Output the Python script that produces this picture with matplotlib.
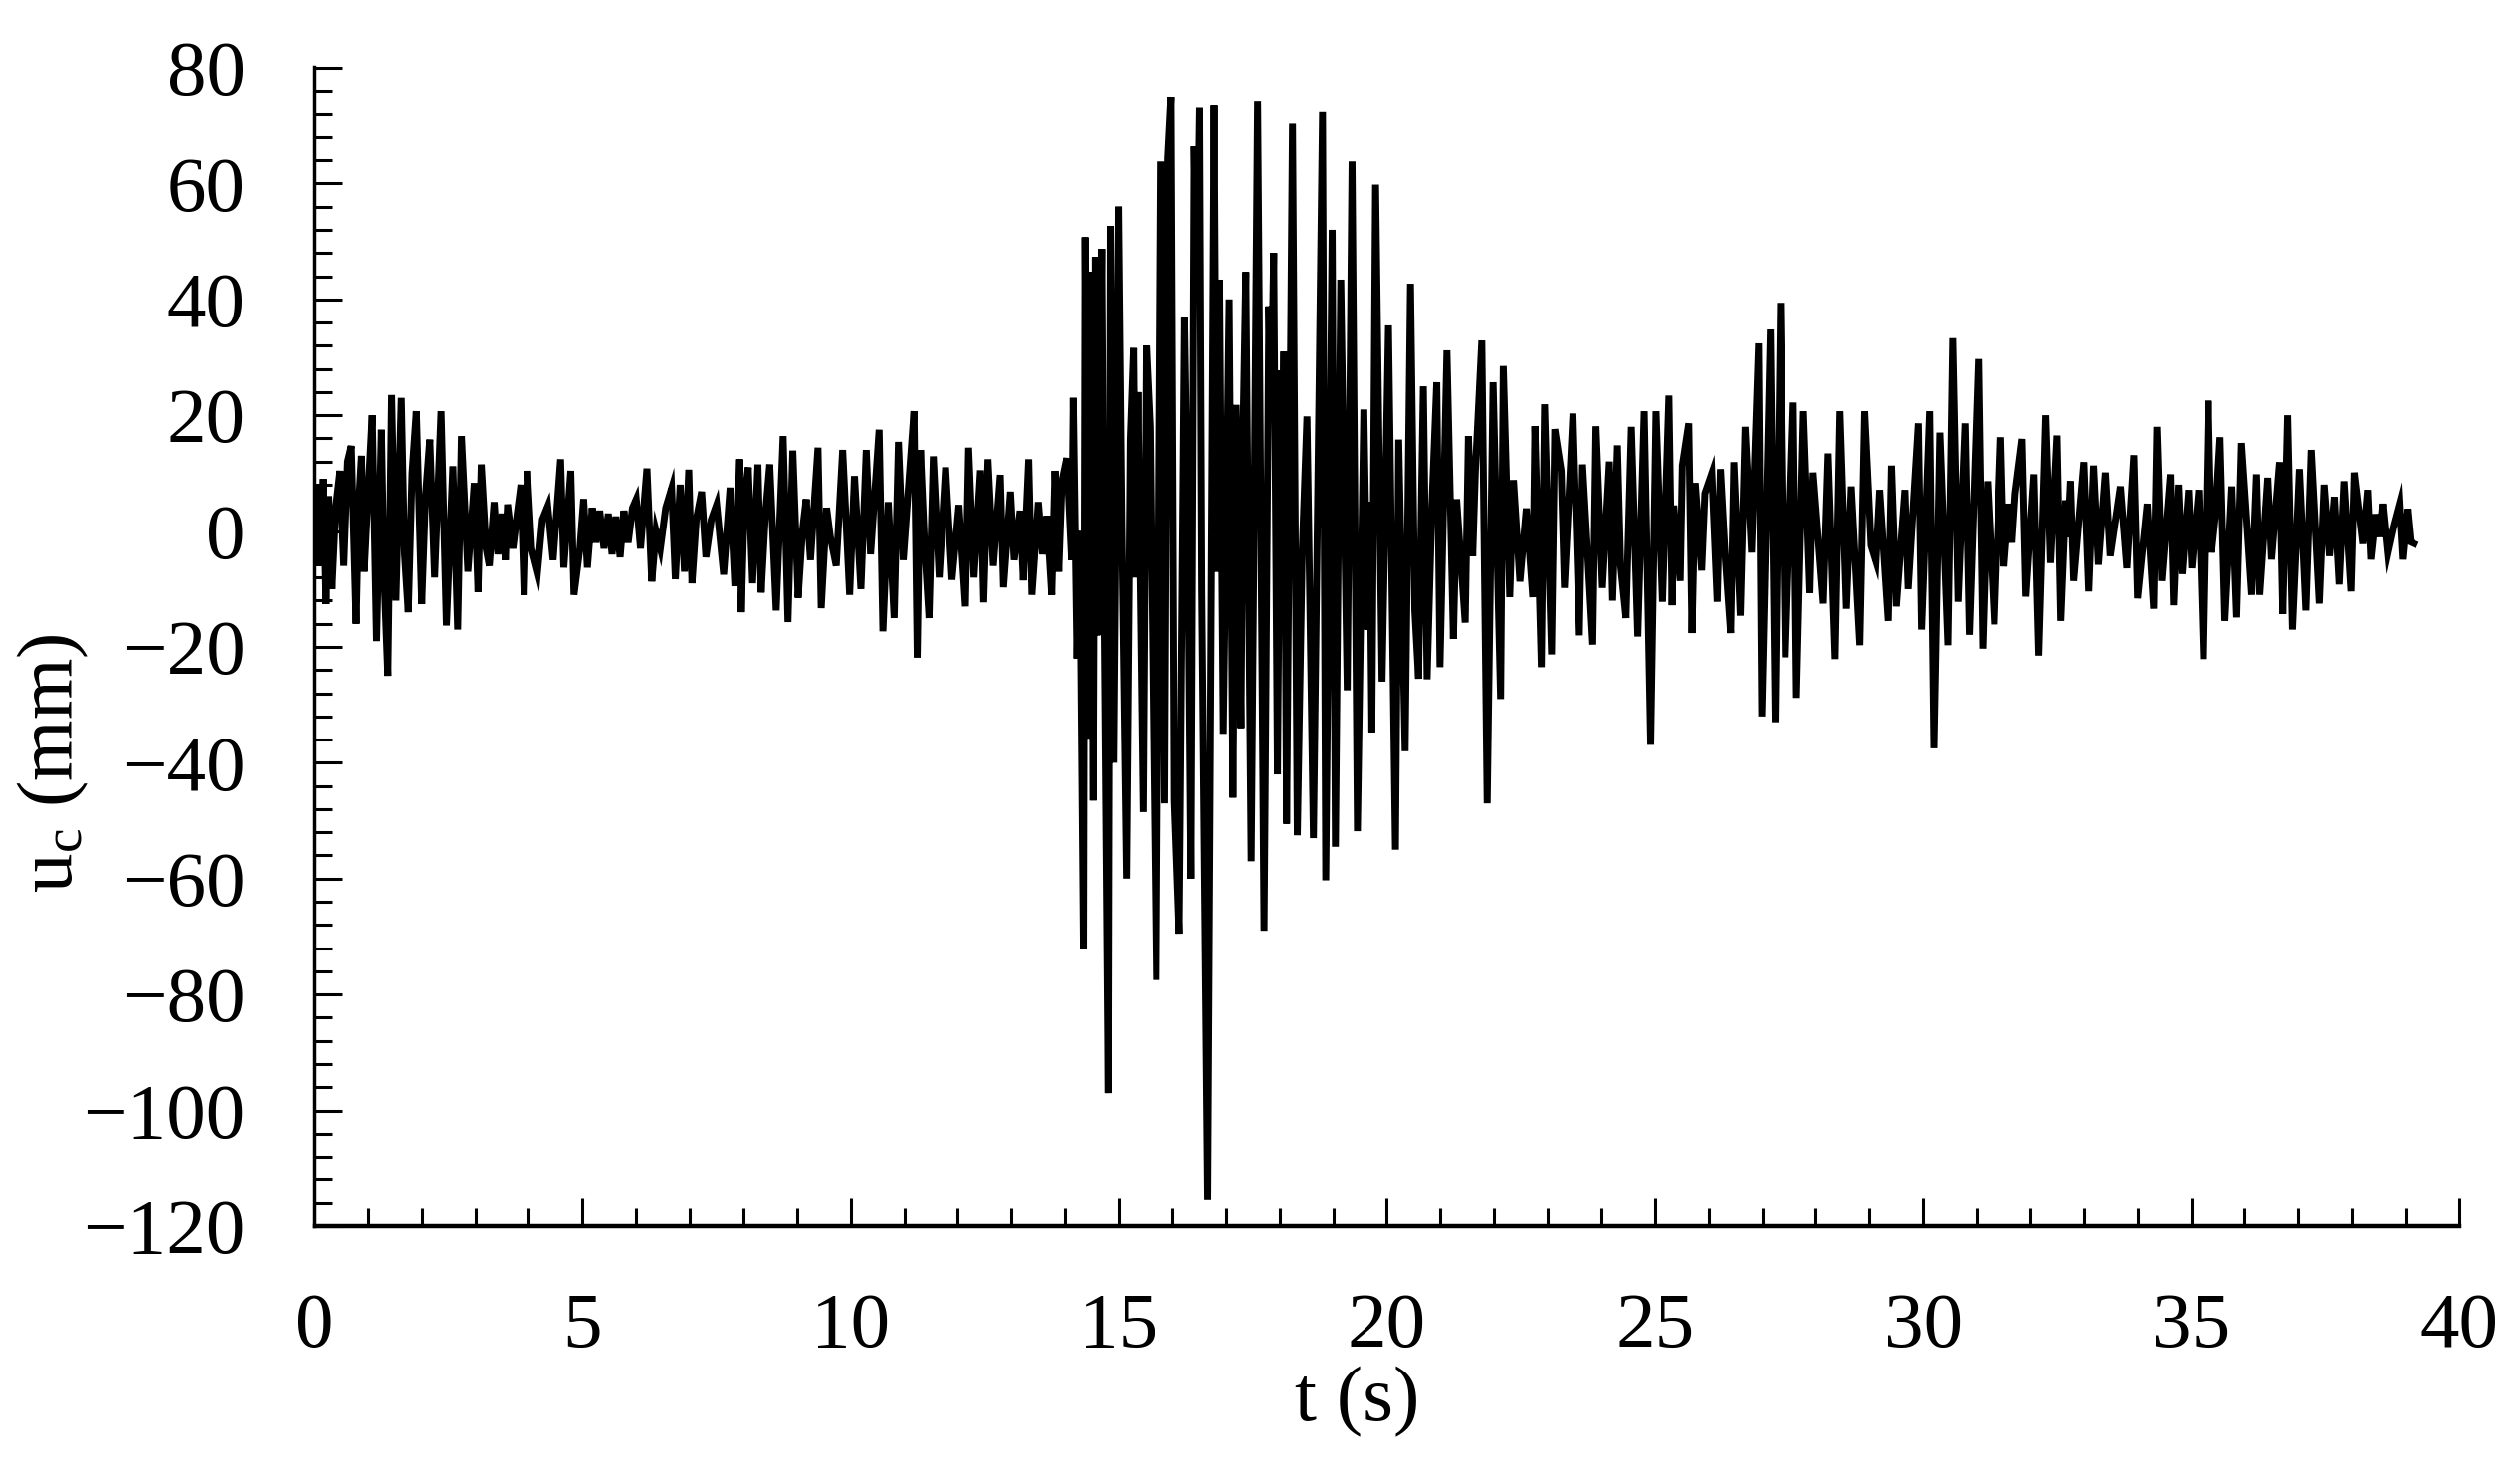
import numpy as np
import matplotlib
matplotlib.use("Agg")
import matplotlib.pyplot as plt
from matplotlib.ticker import MultipleLocator

plt.rcParams['font.family'] = ['Liberation Serif', 'DejaVu Serif']
plt.rcParams['mathtext.fontset'] = 'custom'
plt.rcParams['mathtext.rm'] = 'Liberation Serif'
plt.rcParams['mathtext.it'] = 'Liberation Serif:italic'

# displacement record u_c (mm) vs t (s)
t_a = [0.00, 0.05, 0.10, 0.17, 0.22, 0.27, 0.33, 0.40, 0.48, 0.55, 0.62, 0.69, 0.78, 0.83, 0.88,
       0.93, 1.00, 1.08, 1.16, 1.25, 1.30, 1.37, 1.44, 1.52, 1.62, 1.68, 1.75, 1.82, 1.90, 2.00,
       2.07, 2.15, 2.24, 2.36, 2.46, 2.58, 2.67, 2.74, 2.86, 2.98, 3.05, 3.11, 3.20, 3.26, 3.35,
       3.42, 3.50, 3.56, 3.60, 3.70, 3.78, 3.85, 3.91, 3.97, 4.05, 4.16, 4.25, 4.35, 4.45, 4.59,
       4.65, 4.78, 4.84, 4.95, 5.02, 5.09]
u_a = [0, 8, -6, 9, -12.6, 6, -10, 4, 10.4, -6, 12, 14.7, -16, 5, 13,
       -7, 6, 20, -19, 17.5, -8, -25, 23.5, -12, 23, -4, -14, 10, 20.7, -12.6,
       6, 15.8, -8, 20.7, -16.3, 11.2, -17, 16.4, -7, 8.3, -10.5, 11.5, -3, -6, 5,
       -4, 3, -5, 4.6, -3, 3, 8, -11, 10.4, -3, -7, 2, 4.3, -5, 12.4,
       -6.3, 10.4, -11, -3, 5.5, -6.3]

t_b = [5.18, 5.25, 5.32, 5.40, 5.48, 5.55, 5.62, 5.70, 5.77, 5.85, 5.93, 6.00, 6.08, 6.20, 6.29,
       6.37, 6.45, 6.55, 6.66, 6.73, 6.82, 6.90, 6.98, 7.04, 7.12, 7.22, 7.30, 7.40, 7.50, 7.63,
       7.75, 7.84, 7.93, 7.96, 8.02, 8.09, 8.17, 8.27, 8.33, 8.41, 8.49, 8.61, 8.74, 8.83, 8.92,
       9.02, 9.10, 9.17, 9.25, 9.39, 9.45, 9.55, 9.62, 9.73, 9.85, 9.98, 10.07, 10.19, 10.29]
u_b = [4, -2, 3.5, -3, 3, -4, 2.5, -4.5, 3.5, -2, 4, 5.5, -3, 10.8, -8.7,
       0, -3, 4, 7.4, -8.3, 8, -7, 10.6, -9, 2, 6.8, -4.5, 2, 4.6, -7.5,
       7.5, -9.5, 12.4, -14, 6, 11, -9, 11.5, -10.6, 3, 11.5, -13.7, 16.4, -15.7, 13.9,
       -11.5, 0, 5.5, -5, 14.4, -13.3, 4, -1, -6, 14, -11, 9.5, -10, 14]

t_c = [10.37, 10.53, 10.60, 10.70, 10.81, 10.89, 10.98, 11.08, 11.18, 11.24, 11.30, 11.38, 11.46,
       11.54, 11.65, 11.77, 11.89, 12.02, 12.14, 12.20, 12.30, 12.42, 12.48, 12.56, 12.66, 12.79,
       12.85, 12.98, 13.05, 13.16, 13.22, 13.32, 13.38, 13.50, 13.58, 13.66, 13.75, 13.81, 13.88,
       13.94, 14.03, 14.12]
u_c = [-4, 17.5, -17.3, 5, -15, 15.4, -5, 8, 20.7, -21.8, 14, -3, -15,
       12.9, -8, 11, -8.4, 4.5, -13, 14.4, -8, 10.5, -12.3, 12.4, -6, 9.7,
       -9.7, 6.8, -5, 3.5, -8.5, 12.4, -11, 5, -4, 2.6, -11, 10.4, -7,
       8.6, 12.6, -5]

t_d = [14.15, 14.22, 14.27, 14.34, 14.37, 14.43, 14.46, 14.52, 14.56, 14.59, 14.68, 14.72, 14.80,
       14.84, 14.90, 14.99, 15.05, 15.14, 15.21, 15.27, 15.31, 15.35, 15.45, 15.51, 15.58, 15.70,
       15.79, 15.86, 15.92, 15.98, 16.04, 16.13, 16.23, 16.29, 16.35, 16.41, 16.46, 16.51, 16.55,
       16.66, 16.78, 16.83, 16.88, 16.95, 17.06, 17.13, 17.19, 17.28, 17.32, 17.37, 17.47]
u_d = [23, -22, 0, -72, 50.7, -36, 44.7, -46.5, 47.3, -18, 48.7, -8.5, -97,
       52.6, -40, 56, 2, -60, 15.8, 31.6, -8, 24, -48.5, 32, 18, -77.5,
       63.8, -47, 64.4, 75, -46.5, -69.5, 36.8, 2, -60, 66.4, 40, 73, -10,
       -115.5, 73.6, -7, 43.4, -35, 40, -46, 21.8, -34, 17.8, 44.7, -57]

t_e = [17.59, 17.71, 17.80, 17.84, 17.89, 17.96, 18.02, 18.06, 18.08, 18.13, 18.24, 18.33, 18.42,
       18.51, 18.63, 18.80, 18.86, 18.98, 19.04, 19.14, 19.26, 19.35, 19.45, 19.57, 19.64, 19.68,
       19.72, 19.79, 19.91, 20.03, 20.16, 20.22, 20.34, 20.44, 20.52, 20.59, 20.68, 20.75]
u_e = [74.3, -69, 38.8, 20, 48, -42, 27.7, 15, 31, -50.5, 70.3, -52.5, -4,
       19.8, -53, 72.3, -60.3, 52, -54.5, 43.4, -27.5, 63.8, -51.8, 21, -17, 5,
       -34.7, 59.8, -26, 35.5, -55, 15.8, -38, 42.7, -13.6, -25.5, 25, -25.6]

t_f = [20.84, 20.93, 20.99, 21.12, 21.24, 21.30, 21.46, 21.52, 21.60, 21.65, 21.77, 21.87, 21.98,
       22.12, 22.17, 22.29, 22.36, 22.48, 22.60, 22.72, 22.76, 22.88, 22.94, 23.07, 23.13, 23.25,
       23.31, 23.47, 23.59, 23.65, 23.84, 23.90, 24.02, 24.15, 24.21, 24.30, 24.36, 24.46]
u_f = [4.4, 25.7, -23.5, 31.2, -18.6, 5.5, -15.8, 16.4, -4.3, 10.4, 32.9, -47, 25.7,
       -29, 28.5, -11.4, 8.8, -8.7, 3.9, -11.4, 18.1, -23.5, 21.9, -21.3, 17.6, 10.4,
       -9.8, 20.3, -18, 11.5, -19.6, 18.1, -9.8, 12, -12, 14.8, -6, -15]

t_g = [24.56, 24.68, 24.80, 24.92, 25.02, 25.14, 25.26, 25.32, 25.35, 25.47, 25.51, 25.63, 25.69,
       25.75, 25.87, 25.93, 26.06, 26.16, 26.22, 26.31, 26.41, 26.47, 26.59, 26.68, 26.80, 26.93,
       26.99, 27.15, 27.24, 27.34, 27.43, 27.58, 27.64, 27.77, 27.89, 27.95, 28.14, 28.23, 28.36,
       28.45, 28.57, 28.66, 28.82, 28.91, 29.03, 29.12, 29.19, 29.35, 29.41, 29.50, 29.66, 29.72]
u_g = [18, -18.2, 20.7, -36.9, 20.7, -12.2, 23.4, -12.8, 4.4, -8.6, 11.3, 18.6, -17.6,
       8.3, -6.8, 6.5, 10, -12.2, 10.7, -4.6, -17.6, 11.9, -14.6, 18, -3.7, 32.4,
       -32, 34.8, -33, 39.4, -21.8, 22.2, -28.8, 20.7, -10.7, 10.1, -12.5, 13.4, -22.1,
       20.7, -13.4, 7.7, -19.7, 20.7, -2.5, -5.2, 7.1, -15.5, 11.3, -13, 7.1, -10]

t_h = [29.91, 29.97, 30.12, 30.20, 30.31, 30.46, 30.55, 30.65, 30.78, 30.86, 31.03, 31.11, 31.20,
       31.33, 31.45, 31.51, 31.60, 31.66, 31.72, 31.85, 31.92, 32.07, 32.16, 32.29, 32.38, 32.50,
       32.57, 32.66, 32.70, 32.75, 32.81, 33.00, 33.09, 33.18, 33.27, 33.40, 33.49, 33.68, 33.80,
       33.93, 34.00, 34.18, 34.30, 34.36, 34.45, 34.61, 34.67]
u_h = [18.6, -17, 20.7, -37.5, 17, -19.7, 33.3, -12.2, 18.6, -17.9, 29.7, -20.3, 8.6,
       -16.1, 16.2, -6.1, 4.7, -2, 6.5, 15.9, -11.3, 9.8, -21.5, 20, -5.5, 16.5,
       -15.5, 5.3, -1, 8.6, -8.6, 11.9, -10.4, 11.3, -5.8, 10.1, -4.3, 7.7, -6.4,
       13.1, -11.6, 4.7, -13.4, 18, -8.6, 9.8, -12.8]

t_i = [34.76, 34.83, 34.95, 35.01, 35.14, 35.23, 35.32, 35.38, 35.45, 35.54, 35.63, 35.76, 35.85,
       35.94, 36.13, 36.22, 36.28, 36.43, 36.50, 36.65, 36.71, 36.80, 36.89, 37.02, 37.14, 37.24,
       37.39, 37.48, 37.58, 37.67, 37.76, 37.85, 37.98, 38.04, 38.20, 38.29, 38.35, 38.44, 38.51,
       38.57, 38.66, 38.76, 38.88, 38.94, 39.03, 39.09, 39.16]
u_i = [8, -7.4, 7.1, -6.4, 7.1, -22.1, 22.5, -3.7, 2.3, 16.2, -15.5, 7.7, -14.9,
       15.2, -11, 9.8, -11, 9.2, -4.9, 11.9, -14.3, 20, -17, 10.7, -13.7, 14,
       -12.5, 8, -4.3, 5.9, -9.2, 8.6, -10.4, 10.1, -2.2, 7.1, -4.9, 2.9, -1,
       4.7, -3.7, 0.5, 4.7, -4.9, 3.8, -1.9, -2.2]

t = np.concatenate([t_a, t_b, t_c, t_d, t_e, t_f, t_g, t_h, t_i])
u = np.concatenate([u_a, u_b, u_c, u_d, u_e, u_f, u_g, u_h, u_i])

fig = plt.figure(figsize=(25.32, 14.85), dpi=100)
ax = fig.add_axes([0.1248, 0.1704, 0.8511, 0.7838])

ax.plot(t, u, color='black', linewidth=5.0, solid_joinstyle='miter')

ax.set_xlim(0, 40)
ax.set_ylim(-120, 80)
ax.xaxis.set_major_locator(MultipleLocator(5))
ax.xaxis.set_minor_locator(MultipleLocator(1))
ax.yaxis.set_major_locator(MultipleLocator(20))
ax.yaxis.set_minor_locator(MultipleLocator(4))

for s in ['top', 'right']:
    ax.spines[s].set_visible(False)
for s in ['left', 'bottom']:
    ax.spines[s].set_linewidth(3.2)

ax.tick_params(which='major', direction='in', length=20, width=2.2, labelsize=57)
ax.tick_params(which='minor', direction='in', length=13, width=2.2)
ax.tick_params(axis='x', which='major', pad=48)
ax.tick_params(axis='y', which='major', pad=50)

ax.set_xlabel('t (s)', fontsize=57, va='baseline')
ax.xaxis.set_label_coords(0.4863, -0.1675)
ax.set_ylabel(r'u$_\mathrm{c}$ (mm)', fontsize=57, va='center')
ax.yaxis.set_label_coords(-0.122, 0.40)

fig.savefig('out.png', dpi=100)
